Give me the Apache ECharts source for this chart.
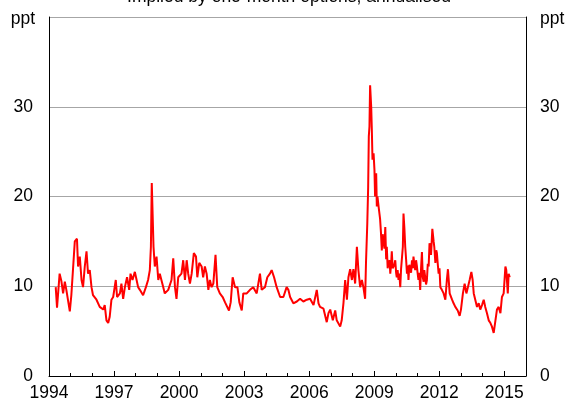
<!DOCTYPE html>
<html>
<head>
<meta charset="utf-8">
<script src="https://cdn.jsdelivr.net/npm/echarts@6.0.0/dist/echarts.min.js"></script>
<style>
  html, body { margin: 0; padding: 0; background: #fff; }
  #chart { width: 566px; height: 405px; }
</style>
</head>
<body>
<div id="chart"></div>
<script>
// decimal years
var years = [
  1994.31, 1994.37, 1994.49, 1994.57, 1994.65, 1994.73, 1994.80, 1994.96,
  1995.03, 1995.11, 1995.19, 1995.29, 1995.34, 1995.42, 1995.50, 1995.57, 1995.65, 1995.73, 1995.80, 1995.88, 1995.96,
  1996.03, 1996.19, 1996.34, 1996.50, 1996.57, 1996.65, 1996.73, 1996.80, 1996.88, 1996.96,
  1997.08, 1997.14, 1997.27, 1997.34, 1997.42, 1997.50, 1997.60, 1997.70, 1997.76, 1997.85, 1997.96,
  1998.04, 1998.11, 1998.19, 1998.34, 1998.47, 1998.57, 1998.65, 1998.70, 1998.74, 1998.77, 1998.82, 1998.88, 1998.96,
  1999.04, 1999.11, 1999.27, 1999.34, 1999.50, 1999.65, 1999.73, 1999.81, 1999.88, 1999.96,
  2000.11, 2000.19, 2000.27, 2000.35, 2000.42, 2000.50, 2000.58, 2000.68, 2000.78, 2000.84, 2000.93,
  2001.04, 2001.11, 2001.19, 2001.27, 2001.35, 2001.42, 2001.50, 2001.58, 2001.68, 2001.76, 2001.88,
  2002.01, 2002.12, 2002.19, 2002.30, 2002.38, 2002.47, 2002.58, 2002.69, 2002.78, 2002.89, 2002.96,
  2003.12, 2003.27, 2003.42, 2003.58, 2003.73, 2003.81, 2003.96,
  2004.07, 2004.19, 2004.27, 2004.38, 2004.50, 2004.66, 2004.81, 2004.96,
  2005.04, 2005.12, 2005.27, 2005.43, 2005.58, 2005.73, 2005.89,
  2006.04, 2006.20, 2006.35, 2006.43, 2006.50, 2006.66, 2006.81, 2006.89, 2006.97,
  2007.09, 2007.20, 2007.27, 2007.43, 2007.50, 2007.58, 2007.66, 2007.74, 2007.81, 2007.89, 2007.97,
  2008.04, 2008.12, 2008.20, 2008.27, 2008.35, 2008.43, 2008.50, 2008.58, 2008.62, 2008.68, 2008.72, 2008.75,
  2008.78, 2008.81, 2008.86, 2008.89, 2008.92, 2008.97,
  2009.01, 2009.04, 2009.09, 2009.12, 2009.15, 2009.20, 2009.27, 2009.31, 2009.35, 2009.39, 2009.43, 2009.47,
  2009.51, 2009.55, 2009.58, 2009.62, 2009.66, 2009.71, 2009.74, 2009.78, 2009.81, 2009.85, 2009.89, 2009.93, 2009.97,
  2010.01, 2010.04, 2010.08, 2010.12, 2010.16, 2010.20, 2010.24, 2010.28, 2010.32, 2010.35, 2010.39, 2010.43,
  2010.47, 2010.51, 2010.55, 2010.58, 2010.62, 2010.66, 2010.70, 2010.74, 2010.78, 2010.81, 2010.85, 2010.89,
  2010.93, 2010.97,
  2011.00, 2011.04, 2011.08, 2011.12, 2011.16, 2011.20, 2011.24, 2011.28, 2011.31, 2011.35, 2011.39, 2011.43,
  2011.47, 2011.51, 2011.55, 2011.58, 2011.62, 2011.68, 2011.74, 2011.77, 2011.82, 2011.86, 2011.89, 2011.93, 2011.97,
  2012.01, 2012.05, 2012.12, 2012.20, 2012.28, 2012.35, 2012.40, 2012.48, 2012.59, 2012.66, 2012.74, 2012.85, 2012.94,
  2013.00, 2013.09, 2013.17, 2013.25, 2013.32, 2013.40, 2013.48, 2013.54, 2013.59, 2013.66, 2013.74, 2013.82, 2013.89, 2013.97,
  2014.05, 2014.12, 2014.20, 2014.28, 2014.36, 2014.43, 2014.51, 2014.59, 2014.66, 2014.74, 2014.82, 2014.89, 2014.97,
  2015.05, 2015.09, 2015.16, 2015.20, 2015.25
];

// implied volatility, ppt
var vol = [
  9.9, 7.6, 11.4, 10.6, 9.2, 10.5, 9.6, 7.2,
  9.0, 9.0, 15.0, 15.3, 12.2, 13.3, 10.7, 9.9, 12.2, 13.9, 11.4, 11.8, 9.9,
  9.0, 8.5, 7.7, 7.4, 7.9, 6.2, 5.9, 6.6, 8.5, 8.8,
  10.7, 8.8, 9.2, 10.3, 8.6, 9.9, 11.0, 9.6, 11.4, 10.7, 11.6,
  10.7, 9.9, 9.6, 9.0, 9.9, 10.7, 11.8, 14.4, 21.5, 21.3, 14.4, 12.2, 13.3,
  10.7, 11.4, 9.9, 9.2, 9.6, 10.7, 13.1, 9.9, 8.6, 11.0,
  11.4, 12.9, 10.7, 12.9, 11.4, 10.3, 11.4, 13.7, 13.3, 11.0, 12.6,
  12.2, 11.0, 12.2, 11.4, 9.6, 10.7, 9.9, 10.3, 13.5, 9.9, 9.2,
  8.8, 8.2, 8.2, 7.3, 8.2, 11.0, 9.9, 9.9, 8.2, 7.3, 9.2,
  9.2, 9.6, 9.9, 9.2, 11.4, 9.6, 9.9,
  11.0, 11.4, 11.8, 11.0, 9.9, 8.8, 8.8, 9.9,
  9.6, 8.8, 8.1, 8.3, 8.6, 8.3, 8.5,
  8.6, 7.9, 9.6, 8.1, 7.7, 7.5, 6.0, 7.0, 7.4,
  6.2, 7.3, 6.2, 5.5, 6.2, 8.1, 10.7, 8.5, 11.0, 11.9, 10.7,
  11.9, 10.3, 14.4, 11.8, 9.9, 10.7, 9.9, 8.6, 12.6, 17.0, 21.0, 26.7,
  27.8, 32.4, 30.0, 27.4, 24.1, 24.8,
  23.0, 20.0, 22.6, 18.9, 20.0, 18.9, 17.5, 16.0, 14.0, 15.8, 16.0, 14.2,
  16.6, 13.0, 14.4, 12.0, 12.6, 12.9, 11.4, 12.5, 13.9, 12.0, 11.8, 12.4, 12.9,
  11.5, 11.0, 11.8, 10.7, 11.4, 9.9, 12.0, 12.2, 14.4, 18.1, 16.5, 14.4,
  13.0, 11.4, 12.3, 10.7, 12.4, 12.2, 11.5, 12.9, 12.0, 13.3, 12.5, 11.8,
  12.9, 12.2,
  11.5, 10.7, 11.5, 9.6, 12.0, 13.8, 11.0, 10.5, 11.8, 11.9, 10.2, 10.7,
  12.5, 12.2, 14.8, 14.8, 13.5, 16.4, 15.0, 14.4, 12.6, 14.0, 13.7, 12.5, 11.4,
  12.0, 9.9, 9.6, 9.2, 8.5, 10.7, 11.9, 9.2, 8.5, 8.1, 7.7, 7.3, 6.7,
  7.4, 9.2, 10.3, 9.2, 9.9, 10.7, 11.6, 10.7, 9.2, 8.5, 7.7, 8.1, 7.4, 7.9,
  8.5, 7.7, 7.0, 6.2, 5.9, 5.5, 4.8, 4.8, 7.4, 7.7, 7.0, 8.8, 9.2,
  12.2, 11.8, 9.2, 11.4, 11.0
];

var titleText = 'Implied by one-month options; annualised';
var unitText = 'ppt';

var font = '"Liberation Sans", Arial, sans-serif';
var fs = 17.5;

var myChart = echarts.init(document.getElementById('chart'));

var option = {
    animation: false,
    backgroundColor: '#fff',
    textStyle: { fontFamily: font },
    grid: {
        left: 49, right: 40, top: 17, bottom: 29,
        containLabel: false,
        outerBoundsMode: 'none'
    },
    graphic: [
        {
            type: 'text', left: null, x: 289, y: -2.5,
            style: { text: titleText, font: fs + 'px ' + font, fill: '#000', align: 'center', verticalAlign: 'middle' }
        },
        {
            type: 'text', x: 35, y: 19,
            style: { text: unitText, font: fs + 'px ' + font, fill: '#000', align: 'right', verticalAlign: 'middle' }
        },
        {
            type: 'text', x: 540, y: 19,
            style: { text: unitText, font: fs + 'px ' + font, fill: '#000', align: 'left', verticalAlign: 'middle' }
        }
    ],
    xAxis: [
        {
            // yearly minor ticks
            type: 'value', min: 1994, max: 2016, interval: 1,
            axisLine: { show: true, lineStyle: { color: '#000', width: 1 } },
            axisTick: { show: true, inside: true, length: 3, lineStyle: { color: '#000' } },
            axisLabel: { show: false },
            splitLine: { show: false }
        },
        {
            // three-year ticks with labels
            type: 'value', min: 1994, max: 2016, interval: 3,
            position: 'bottom',
            axisLine: { show: false },
            axisTick: { show: true, inside: true, length: 5, lineStyle: { color: '#000' } },
            axisLabel: {
                show: true, margin: 8, color: '#000', fontSize: fs, fontFamily: font,
                formatter: function (v) { return (v - 1994) % 3 === 0 ? String(v) : ''; }
            },
            splitLine: { show: false }
        }
    ],
    yAxis: [
        {
            type: 'value', min: 0, max: 40, interval: 10, position: 'left',
            axisLine: { show: true, lineStyle: { color: '#000', width: 1 } },
            axisTick: { show: false },
            axisLabel: {
                margin: 16, color: '#000', fontSize: fs, fontFamily: font,
                formatter: function (v) { return v === 40 ? '' : String(v); }
            },
            splitLine: { show: true, lineStyle: { color: '#a6a6a6', width: 1 } }
        },
        {
            type: 'value', min: 0, max: 40, interval: 10, position: 'right',
            axisLine: { show: true, lineStyle: { color: '#000', width: 1 } },
            axisTick: { show: false },
            axisLabel: {
                margin: 14, color: '#000', fontSize: fs, fontFamily: font,
                formatter: function (v) { return v === 40 ? '' : String(v); }
            },
            splitLine: { show: false }
        }
    ],
    series: [
        {
            type: 'line',
            xAxisIndex: 0,
            yAxisIndex: 0,
            showSymbol: false,
            symbol: 'none',
            lineStyle: { color: '#ff0000', width: 2 },
            data: years.map(function (y, i) { return [y, vol[i]]; })
        }
    ]
};
myChart.setOption(option);
</script>
</body>
</html>
